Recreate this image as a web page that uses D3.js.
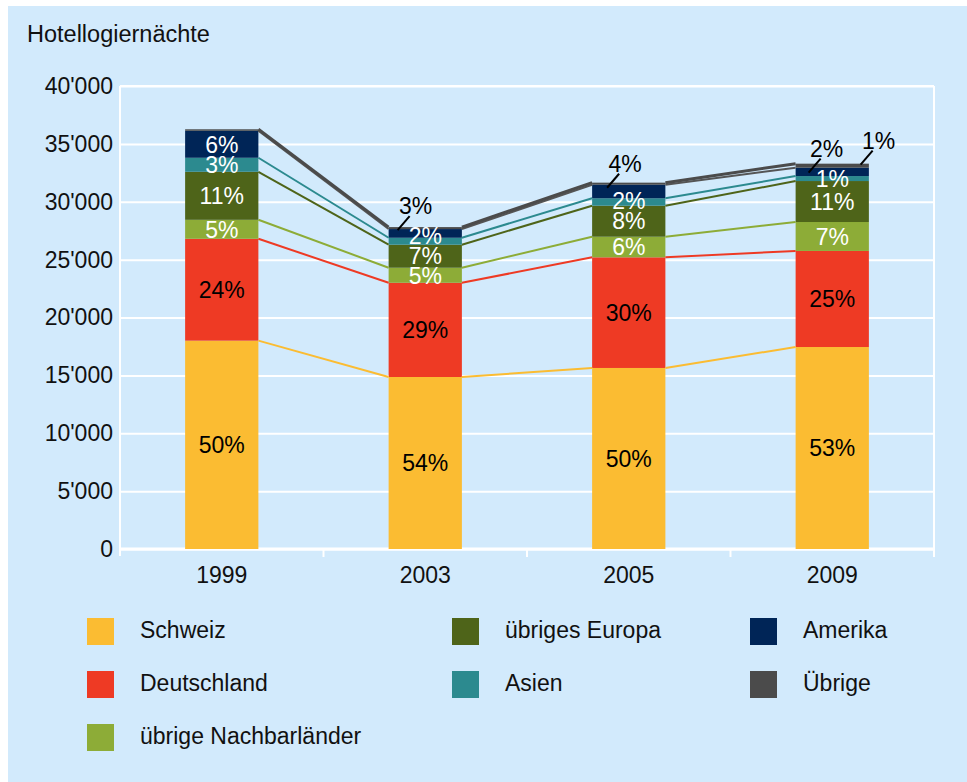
<!DOCTYPE html>
<html>
  <head>
    <meta charset="utf-8">
    <title>Hotellogiernächte</title>
    <script src="https://cdn.jsdelivr.net/npm/d3@7"></script>
    <style>
      body { margin: 0; background: #fff; }
      text { font-family: "Liberation Sans", Arial, Helvetica, sans-serif; }
    </style>
  </head>
  <body>
    <svg width="967" height="782" id="mainsvg"></svg>
    <script>
        // data (Hotellogiernächte, stacked by origin)
        const years = ['1999', '2003', '2005', '2009'];
        const seriesNames = ['Schweiz', 'Deutschland', 'übrige Nachbarländer', 'übriges Europa', 'Asien', 'Amerika', 'Übrige'];
        const schweiz     = [18000, 14860, 15640, 17450];
        const deutschland = [8800, 8140, 9560, 8300];
        const nachbar     = [1640, 1300, 1780, 2500];
        const europa      = [4150, 1990, 2680, 3540];
        const asien       = [1210, 600, 640, 430];
        const amerika     = [2330, 750, 1170, 720];
        const uebrige     = [130, 170, 180, 350];

        // percent labels as printed
        const pctSchweiz     = ['50%', '54%', '50%', '53%'];
        const pctDeutschland = ['24%', '29%', '30%', '25%'];
        const pctNachbar     = ['5%', '5%', '6%', '7%'];
        const pctEuropa      = ['11%', '7%', '8%', '11%'];
        const pctAsien       = ['3%', '2%', '2%', '1%'];
        const pctAmerika     = ['6%', '3%', '4%', '2%'];
        const pctUebrige     = ['', '', '', '1%'];

        const yTicks = [0, 5000, 10000, 15000, 20000, 25000, 30000, 35000, 40000];

        const colors = ['#fbbc32', '#ee3a24', '#8dac37', '#4e6419', '#2c8a8f', '#002557', '#4b4b4b'];
        const labelColors = ['#000', '#000', '#fff', '#fff', '#fff', '#fff', '#000'];

        const allValues = [schweiz, deutschland, nachbar, europa, asien, amerika, uebrige];
        const allPct = [pctSchweiz, pctDeutschland, pctNachbar, pctEuropa, pctAsien, pctAmerika, pctUebrige];

        const table = years.map((yr, i) => {
          const row = {year: yr};
          seriesNames.forEach((s, j) => row[s] = allValues[j][i]);
          return row;
        });

        // labels drawn outside the bar with a leader line (offsets from bar left / segment top)
        const callouts = [
          {year: '2003', series: 'Amerika', sx: 9, sy: 1},
          {year: '2005', series: 'Amerika', sx: 15, sy: 3},
          {year: '2009', series: 'Amerika', sx: 13, sy: 5},
          {year: '2009', series: 'Übrige', sx: 65, sy: 1}
        ];

        const svg = d3.select('#mainsvg');
        const width = +svg.attr('width');
        const height = +svg.attr('height');
        const margin = {top: 86, right: 33, bottom: 233, left: 120};
        const innerWidth = width - margin.left - margin.right;
        const innerHeight = height - margin.top - margin.bottom;
        const fs = '23px';

        svg.append('rect').attr('x', 8).attr('y', 6)
          .attr('width', width - 8).attr('height', height - 6).attr('fill', '#d2eafc');

        svg.append('text').text('Hotellogiernächte')
          .attr('x', 27).attr('y', 42).attr('font-size', '23.5px').attr('fill', '#111');

        const g = svg.append('g').attr('transform', `translate(${margin.left}, ${margin.top})`);

        const xScale = d3.scaleBand().domain(years).range([0, innerWidth]).padding(0);
        const yScale = d3.scaleLinear().domain([0, 40000]).range([innerHeight, 0]);
        const barW = xScale.bandwidth() * 0.36;
        const barX = yr => xScale(yr) + (xScale.bandwidth() - barW) / 2;

        const fmt = d3.formatLocale({decimal: '.', thousands: "'", grouping: [3], currency: ['', '']}).format(',');

        // y axis + gridlines
        const yAxis = d3.axisLeft(yScale).tickValues(yTicks).tickFormat(fmt)
          .tickSize(-innerWidth).tickPadding(7);
        const yg = g.append('g').call(yAxis);
        yg.select('.domain').remove();
        yg.selectAll('.tick line').attr('stroke', '#fff').attr('stroke-width', 2);
        yg.selectAll('.tick text').attr('font-size', fs).attr('fill', '#111');

        // frame
        g.append('line').attr('x1', 0).attr('x2', 0).attr('y1', 0).attr('y2', innerHeight + 7)
          .attr('stroke', '#fff').attr('stroke-width', 2);
        g.append('line').attr('x1', innerWidth).attr('x2', innerWidth).attr('y1', 0).attr('y2', innerHeight + 8)
          .attr('stroke', '#fff').attr('stroke-width', 2);
        g.append('line').attr('x1', 0).attr('x2', innerWidth).attr('y1', 0).attr('y2', 0)
          .attr('stroke', '#fff').attr('stroke-width', 2);

        // x axis
        const xAxis = d3.axisBottom(xScale).tickSize(0).tickPadding(18);
        const xg = g.append('g').attr('transform', `translate(0, ${innerHeight})`).call(xAxis);
        xg.select('.domain').remove();
        xg.selectAll('.tick text').attr('font-size', fs).attr('fill', '#111');
        years.slice(1).forEach(yr => {
          g.append('line').attr('x1', xScale(yr)).attr('x2', xScale(yr))
            .attr('y1', innerHeight).attr('y2', innerHeight + 8)
            .attr('stroke', '#fff').attr('stroke-width', 2);
        });
        g.append('line').attr('x1', 0).attr('x2', innerWidth).attr('y1', innerHeight).attr('y2', innerHeight)
          .attr('stroke', '#fff').attr('stroke-width', 3);

        // stacked bars
        const stacked = d3.stack().keys(seriesNames)(table);
        stacked.forEach((layer, j) => {
          g.append('g').selectAll('rect').data(layer).join('rect')
            .attr('x', d => barX(d.data.year))
            .attr('width', barW)
            .attr('y', d => yScale(d[1]))
            .attr('height', d => yScale(d[0]) - yScale(d[1]))
            .attr('fill', colors[j]);
        });

        // connector lines between bars at each segment top
        const lineW = [2, 2, 2, 2, 2, 2, 3];
        stacked.forEach((layer, j) => {
          for (let i = 0; i < layer.length - 1; i++) {
            const a = layer[i], b = layer[i + 1];
            g.append('line')
              .attr('x1', barX(a.data.year) + barW).attr('y1', yScale(a[1]))
              .attr('x2', barX(b.data.year)).attr('y2', yScale(b[1]))
              .attr('stroke', j === 5 ? '#555' : colors[j])
              .attr('stroke-width', lineW[j]);
          }
        });

        // percent labels inside bars, nudged apart bottom-up
        const isCallout = (yr, s) => callouts.some(c => c.year === yr && c.series === s);
        years.forEach((yr, i) => {
          let prevY = Infinity;
          stacked.forEach((layer, j) => {
            const d = layer[i];
            const txt = allPct[j][i];
            if (!txt || isCallout(yr, seriesNames[j])) return;
            let cy = (yScale(d[0]) + yScale(d[1])) / 2;
            cy = Math.min(cy, prevY - 20);
            prevY = cy;
            g.append('text').text(txt)
              .attr('x', barX(yr) + barW / 2).attr('y', cy).attr('dy', '0.36em')
              .attr('text-anchor', 'middle').attr('font-size', fs)
              .attr('fill', labelColors[j]);
          });
        });

        // outside labels with leader lines
        callouts.forEach(c => {
          const i = years.indexOf(c.year);
          const j = seriesNames.indexOf(c.series);
          const d = stacked[j][i];
          const x0 = barX(c.year) + c.sx, y0 = yScale(d[1]) + c.sy;
          const x1 = x0 + 12, y1 = y0 - 14;
          g.append('line').attr('x1', x0).attr('y1', y0).attr('x2', x1).attr('y2', y1)
            .attr('stroke', '#000').attr('stroke-width', 2);
          g.append('text').text(allPct[j][i])
            .attr('x', x1 + 6).attr('y', y1 - 2)
            .attr('text-anchor', 'middle').attr('font-size', fs).attr('fill', '#000');
        });

        // legend (column-major, 3 rows)
        const legCols = [87, 452, 750];
        const legRows = [618, 671, 724];
        seriesNames.forEach((s, j) => {
          const col = j < 3 ? 0 : (j < 5 ? 1 : 2);
          const row = j < 3 ? j : (j < 5 ? j - 3 : j - 5);
          const lx = legCols[col], ly = legRows[row];
          svg.append('rect').attr('x', lx).attr('y', ly).attr('width', 27).attr('height', 27)
            .attr('fill', colors[j]);
          svg.append('text').text(s).attr('x', lx + 53).attr('y', ly + 20)
            .attr('font-size', fs).attr('fill', '#111');
        });
    </script>
  </body>
</html>
